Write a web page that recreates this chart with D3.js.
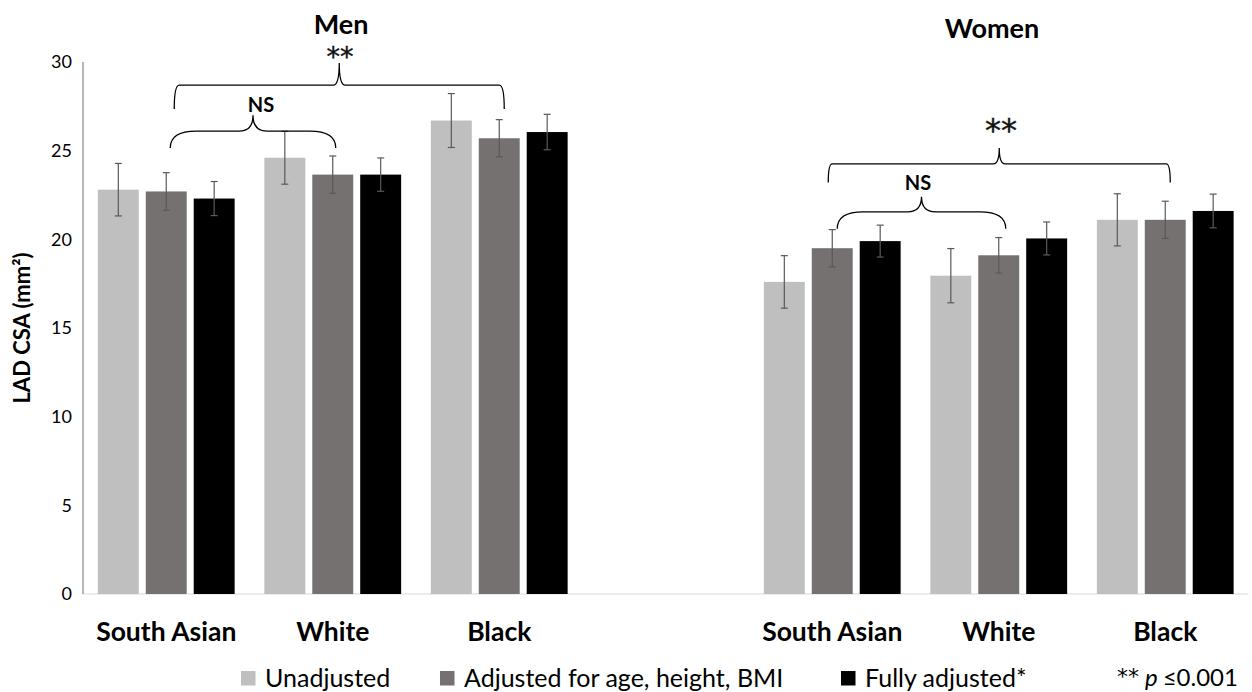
<!DOCTYPE html>
<html>
<head>
<meta charset="utf-8">
<script src="https://cdn.jsdelivr.net/npm/d3@7"></script>
<style>
  body { margin: 0; background: #fff; }
  svg { display: block; font-family: Lato, "Open Sans", sans-serif; }
</style>
</head>
<body>
<div id="chart"></div>
<script>
// data
const groups = ["Men", "Women"];
const ethnicities = ["South Asian", "White", "Black"];
const series = ["Unadjusted", "Adjusted for age, height, BMI", "Fully adjusted*"];
const colors = ["#bfbfbf", "#767171", "#000000"];

// rows = series, cols = ethnicity
const menMeans = [[22.8, 24.6, 26.7], [22.7, 23.65, 25.7], [22.3, 23.65, 26.05]];
const menErr = [[1.48, 1.49, 1.52], [1.06, 1.05, 1.05], [0.96, 0.94, 1.0]];
const womenMeans = [[17.6, 17.95, 21.1], [19.5, 19.1, 21.1], [19.9, 20.05, 21.6]];
const womenErr = [[1.48, 1.53, 1.47], [1.05, 1.0, 1.05], [0.9, 0.93, 0.95]];

const yTicks = [0, 5, 10, 15, 20, 25, 30];

const width = 1252, height = 692;
const margin = {left: 83, right: 3.5, top: 62, bottom: 98};

const svg = d3.select("#chart").append("svg")
    .attr("width", width)
    .attr("height", height);

// 7 slots, one empty slot between men and women
const slots = ["m0", "m1", "m2", "gap", "w0", "w1", "w2"];
const x = d3.scaleBand().domain(slots).range([margin.left, width - margin.right]).padding(0);
const xs = d3.scaleBand().domain(d3.range(series.length)).range([0, x.bandwidth()])
    .paddingInner(0.146).paddingOuter(0.31);
const y = d3.scaleLinear().domain([0, 30]).range([height - margin.bottom, margin.top]);

const bars = [];
groups.forEach((g, gi) => {
    const means = gi === 0 ? menMeans : womenMeans;
    const errs = gi === 0 ? menErr : womenErr;
    ethnicities.forEach((e, ei) => {
        series.forEach((s, si) => {
            bars.push({slot: (gi === 0 ? "m" : "w") + ei, si: si, value: means[si][ei], err: errs[si][ei]});
        });
    });
});

function barX(d) { return x(d.slot) + xs(d.si); }
function barC(slot, si) { return x(slot) + xs(si) + xs.bandwidth() / 2; }

// x axis line
svg.append("line")
    .attr("x1", margin.left).attr("x2", width - margin.right)
    .attr("y1", y(0)).attr("y2", y(0))
    .attr("stroke", "#d9d9d9").attr("stroke-width", 1.2);

svg.append("g").selectAll("rect")
    .data(bars)
    .enter().append("rect")
    .attr("x", barX)
    .attr("y", d => y(d.value))
    .attr("width", xs.bandwidth())
    .attr("height", d => y(0) - y(d.value))
    .attr("fill", d => colors[d.si]);

// error bars
const eb = svg.append("g").attr("stroke", "#595959").attr("stroke-width", 1.2);
bars.forEach(d => {
    const cx = barC(d.slot, d.si);
    eb.append("line").attr("x1", cx).attr("x2", cx).attr("y1", y(d.value + d.err)).attr("y2", y(d.value - d.err));
    eb.append("line").attr("x1", cx - 3.5).attr("x2", cx + 3.5).attr("y1", y(d.value + d.err)).attr("y2", y(d.value + d.err));
    eb.append("line").attr("x1", cx - 3.5).attr("x2", cx + 3.5).attr("y1", y(d.value - d.err)).attr("y2", y(d.value - d.err));
});

// y axis
svg.append("line")
    .attr("x1", margin.left).attr("x2", margin.left)
    .attr("y1", y(30)).attr("y2", y(0))
    .attr("stroke", "#868686").attr("stroke-width", 1.2);

svg.append("g").selectAll("text")
    .data(yTicks)
    .enter().append("text")
    .attr("x", 72)
    .attr("y", d => y(d))
    .attr("dy", "0.36em")
    .attr("text-anchor", "end")
    .style("font-size", "18px")
    .text(d => d);

svg.append("text")
    .attr("transform", "translate(30," + y(15) + ") rotate(-90)")
    .attr("text-anchor", "middle")
    .style("font-size", "22px")
    .style("font-weight", "bold")
    .text("LAD CSA (mm²)");

// category labels
svg.append("g").selectAll("text")
    .data(["m0", "m1", "m2", "w0", "w1", "w2"])
    .enter().append("text")
    .attr("x", d => x(d) + x.bandwidth() / 2)
    .attr("y", 641)
    .attr("text-anchor", "middle")
    .style("font-size", "26.5px")
    .style("font-weight", "bold")
    .text(d => ethnicities[+d[1]]);

// group titles
svg.append("text").attr("x", 341).attr("y", 34).attr("text-anchor", "middle")
    .style("font-size", "27px").style("font-weight", "bold").text(groups[0]);
svg.append("text").attr("x", 992).attr("y", 38).attr("text-anchor", "middle")
    .style("font-size", "27px").style("font-weight", "bold").text(groups[1]);

// braces
function brace(x0, x1, yEnd, yMid, yTip, r, r2) {
    const xm = (x0 + x1) / 2;
    return "M" + x0 + "," + yEnd +
        " Q" + x0 + "," + yMid + " " + (x0 + r) + "," + yMid +
        " L" + (xm - r2) + "," + yMid +
        " Q" + xm + "," + yMid + " " + xm + "," + yTip +
        " Q" + xm + "," + yMid + " " + (xm + r2) + "," + yMid +
        " L" + (x1 - r) + "," + yMid +
        " Q" + x1 + "," + yMid + " " + x1 + "," + yEnd;
}
const braces = [
    {from: "m0", to: "m2", off0: 8, off1: 5, ends: 27.35, mid: 28.7, tip: 29.95, r: 5, r2: 6},
    {from: "m0", to: "m1", off0: 4, off1: 3, ends: 25.15, mid: 26.1, tip: 27.0, r: 26, r2: 14},
    {from: "w0", to: "w2", off0: -4, off1: 5, ends: 23.2, mid: 24.25, tip: 25.15, r: 4, r2: 6},
    {from: "w0", to: "w1", off0: 5, off1: 7, ends: 20.6, mid: 21.55, tip: 22.4, r: 26, r2: 14}
];
svg.append("g").selectAll("path")
    .data(braces)
    .enter().append("path")
    .attr("d", b => brace(barC(b.from, 1) + b.off0, barC(b.to, 1) + b.off1, y(b.ends), y(b.mid), y(b.tip), b.r, b.r2))
    .attr("fill", "none")
    .attr("stroke", "#000")
    .attr("stroke-width", 1.3);

// significance labels
svg.append("text").attr("x", 340).attr("y", 66).attr("text-anchor", "middle")
    .style("font-family", "DejaVu Sans").style("font-size", "27px")
    .attr("fill", "#111").attr("stroke", "#111").attr("stroke-width", 0.4).text("**");
svg.append("text").attr("x", 261).attr("y", 112).attr("text-anchor", "middle")
    .style("font-size", "20px").style("font-weight", "bold").text("NS");
svg.append("text").attr("x", 1001).attr("y", 141).attr("text-anchor", "middle")
    .style("font-family", "DejaVu Sans").style("font-size", "32px")
    .attr("fill", "#111").attr("stroke", "#111").attr("stroke-width", 0.4).text("**");
svg.append("text").attr("x", 918).attr("y", 190).attr("text-anchor", "middle")
    .style("font-size", "20px").style("font-weight", "bold").text("NS");

// legend
const legendX = [241, 440, 841];
const lg = svg.append("g").selectAll("g")
    .data(series)
    .enter().append("g")
    .attr("transform", (d, i) => "translate(" + legendX[i] + ",671)");
lg.append("rect").attr("width", 14.5).attr("height", 14.5).attr("fill", (d, i) => colors[i]);
lg.append("text").attr("x", 24).attr("y", 16)
    .style("font-size", "25px").text(d => d);

const note = svg.append("text").attr("x", 1117).attr("y", 684).style("font-size", "24px");
note.append("tspan").style("font-family", "DejaVu Sans").style("font-size", "22px").text("**");
note.append("tspan").attr("dx", 6).attr("dy", 2).style("font-style", "italic").text("p");
note.append("tspan").attr("dx", 5).text("≤0.001");
</script>
</body>
</html>
